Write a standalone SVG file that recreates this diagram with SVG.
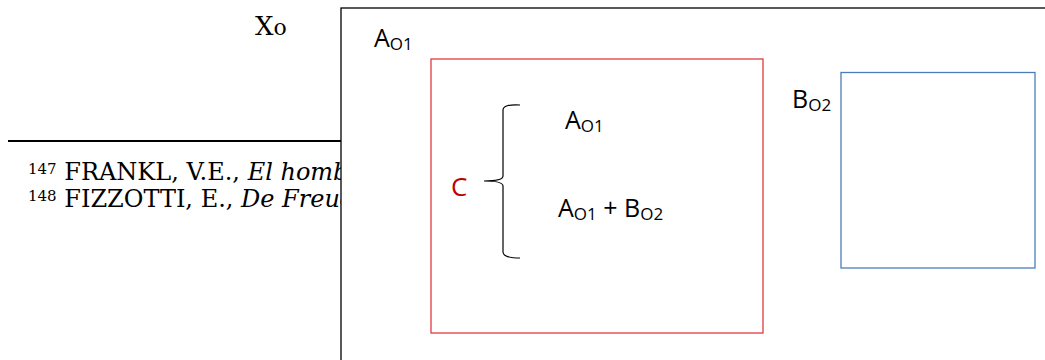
<svg xmlns="http://www.w3.org/2000/svg" width="1045" height="360" viewBox="0 0 1045 360">
<style>
.lbl{font-family:"Open Sans","Liberation Sans",sans-serif;font-size:25px;fill:#000}
.sub{font-size:17px}
.serif{font-family:"DejaVu Serif","Liberation Serif",serif;fill:#000}
</style>
<rect x="0" y="0" width="1045" height="360" fill="#fff"/>
<g id="footnotes">
<line x1="8" y1="141" x2="341" y2="141" stroke="#000" stroke-width="2"/>
<text class="serif" x="28" y="180" font-size="24"><tspan font-size="15" dy="-6">147</tspan><tspan dy="6"> FRANKL, V.E., </tspan><tspan font-style="italic">El homb</tspan></text>
<text class="serif" x="28" y="207" font-size="24"><tspan font-size="15" dy="-6">148</tspan><tspan dy="6"> FIZZOTTI, E., </tspan><tspan font-style="italic">De Freud</tspan></text>
</g>
<g id="x0">
<text class="serif" x="255" y="35" font-size="26">X<tspan font-size="22">o</tspan></text>
</g>
<g id="outer">
<rect x="341" y="8" width="720" height="370" fill="#fff" stroke="#000" stroke-width="1.3"/>
<text class="lbl" x="374" y="47">A<tspan class="sub" dy="3">O1</tspan></text>
</g>
<g id="c-box">
<rect x="431" y="59" width="332" height="274" fill="none" stroke="#e2393e" stroke-width="1.3"/>
<text x="451" y="196" font-family="Open Sans, Liberation Sans, sans-serif" font-size="26" fill="#c00000">C</text>
<text class="lbl" x="565" y="129">A<tspan class="sub" dy="3">O1</tspan></text>
<text class="lbl" x="558" y="217">A<tspan class="sub" dy="3">O1</tspan><tspan dy="-3"> + B</tspan><tspan class="sub" dy="3">O2</tspan></text>
</g>
<g id="b-box">
<rect x="841" y="72.5" width="194" height="195.5" fill="none" stroke="#4a7ebb" stroke-width="1.3"/>
<text class="lbl" x="792" y="108">B<tspan class="sub" dy="3">O2</tspan></text>
</g>
<g id="connectors">
<path d="M520,105 Q503,104 503,110 L503,176 Q503,181 484,181 Q503,181 503,186 L503,252 Q503,258 520,258" fill="none" stroke="#000" stroke-width="1.2"/>
</g>
</svg>
